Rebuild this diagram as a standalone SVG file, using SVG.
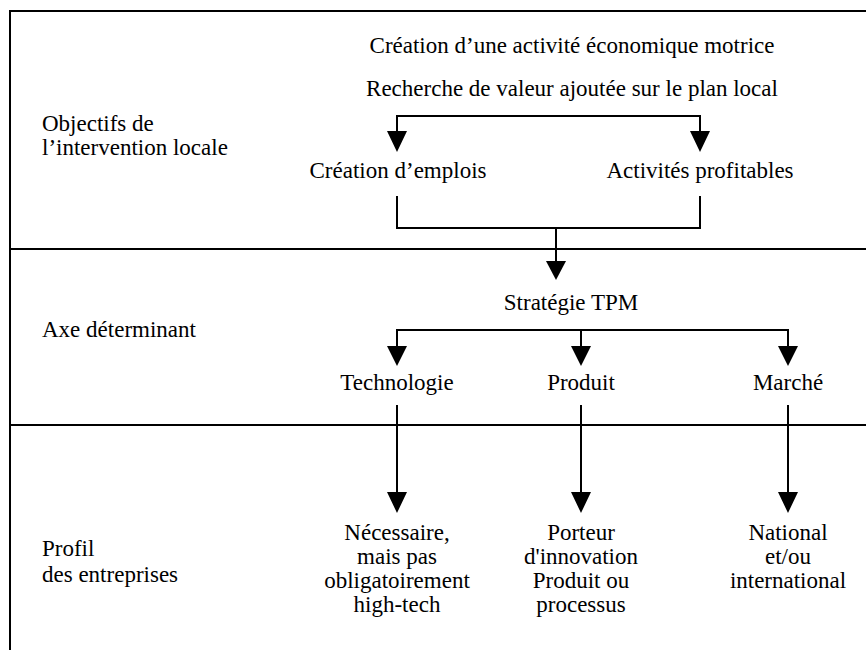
<svg xmlns="http://www.w3.org/2000/svg" width="866" height="650" viewBox="0 0 866 650">
<rect width="866" height="650" fill="#fff"/>
<g id="frame" stroke="#000" stroke-width="2" fill="none">
<path d="M866 11 H10 V650"/>
<path d="M10 249 H866 M10 425 H866"/>
</g>
<g id="labels" font-size="23" fill="#000">
<text font-family="Liberation Serif" x="42" y="131">Objectifs de</text>
<text font-family="Liberation Serif" x="42" y="155">l’intervention locale</text>
<text font-family="Liberation Serif" x="42" y="337">Axe déterminant</text>
<text font-family="Liberation Serif" x="42" y="556">Profil</text>
<text font-family="Liberation Serif" x="42" y="582">des entreprises</text>
</g>
<g font-size="23" fill="#000" text-anchor="middle">
<g id="n-creation-activite"><text font-family="Liberation Serif" x="572" y="53">Création d’une activité économique motrice</text></g>
<g id="n-recherche"><text font-family="Liberation Serif" x="572" y="96">Recherche de valeur ajoutée sur le plan local</text></g>
<g id="n-emplois"><text font-family="Liberation Serif" x="398" y="178">Création d’emplois</text></g>
<g id="n-profitables"><text font-family="Liberation Serif" x="700" y="178">Activités profitables</text></g>
<g id="n-strategie"><text font-family="Liberation Serif" x="571" y="310">Stratégie TPM</text></g>
<g id="n-technologie"><text font-family="Liberation Serif" x="397" y="390">Technologie</text></g>
<g id="n-produit"><text font-family="Liberation Serif" x="581" y="390">Produit</text></g>
<g id="n-marche"><text font-family="Liberation Serif" x="788" y="390">Marché</text></g>
<g id="n-necessaire">
<text font-family="Liberation Serif" x="397" y="540">Nécessaire,</text>
<text font-family="Liberation Serif" x="397" y="564">mais pas</text>
<text font-family="Liberation Serif" x="397" y="588">obligatoirement</text>
<text font-family="Liberation Serif" x="397" y="612">high-tech</text>
</g>
<g id="n-porteur">
<text font-family="Liberation Serif" x="581" y="540">Porteur</text>
<text font-family="Liberation Serif" x="581" y="564">d'innovation</text>
<text font-family="Liberation Serif" x="581" y="588">Produit ou</text>
<text font-family="Liberation Serif" x="581" y="612">processus</text>
</g>
<g id="n-national">
<text font-family="Liberation Serif" x="788" y="540">National</text>
<text font-family="Liberation Serif" x="788" y="564">et/ou</text>
<text font-family="Liberation Serif" x="788" y="588">international</text>
</g>
</g>
<g id="connectors">
<g stroke="#000" stroke-width="2" fill="none">
<path d="M397 132 V116 H700 V132"/>
<path d="M397 196 V228 H700 V196 M556 228 V262"/>
<path d="M397 347 V330 H788 V347 M581 330 V347"/>
<path d="M397 405 V493 M581 405 V493 M788 405 V493"/>
</g>
<g fill="#000">
<path d="M387 131 H407 L397 152 Z M690 131 H710 L700 152 Z"/>
<path d="M546 261 H566 L556 280 Z"/>
<path d="M387 346 H407 L397 366 Z M571 346 H591 L581 366 Z M778 346 H798 L788 366 Z"/>
<path d="M387 492 H407 L397 513 Z M571 492 H591 L581 513 Z M778 492 H798 L788 513 Z"/>
</g>
</g>
</svg>
